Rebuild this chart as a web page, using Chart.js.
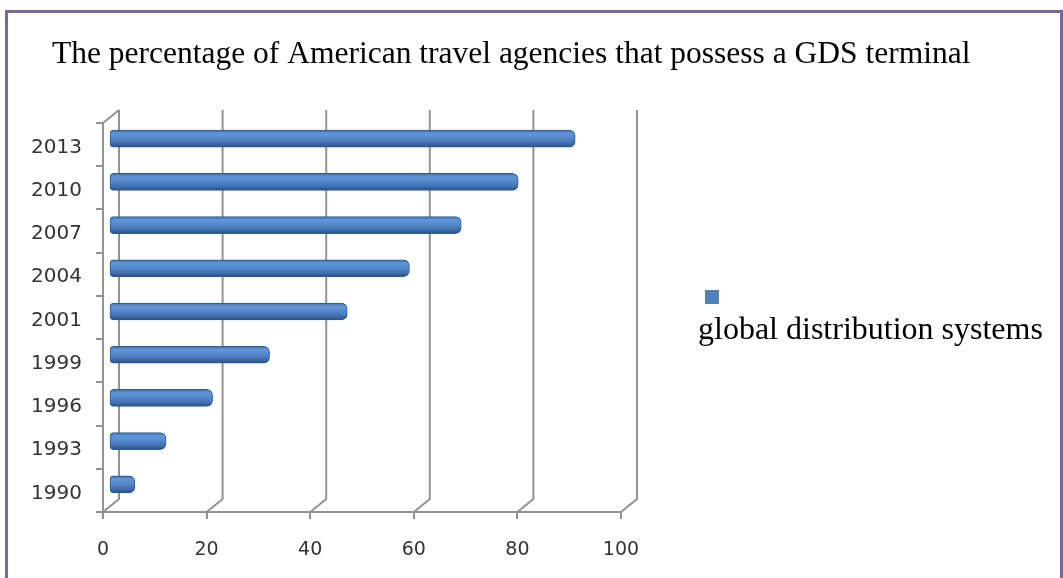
<!DOCTYPE html>
<html>
<head>
<meta charset="utf-8">
<script src="https://cdn.jsdelivr.net/npm/chart.js@4"></script>
<style>
  html, body { margin:0; padding:0; background:#fff; overflow:hidden; }
  #wrap { position:relative; width:1063px; height:578px; }
  #frame { position:absolute; left:5px; top:10px; width:1058px; height:600px; box-sizing:border-box; border:3px solid #8064a2; }
  canvas { position:absolute; left:0; top:0; }
</style>
</head>
<body>
<div id="wrap">
  <div id="frame"></div>
  <canvas id="c" width="1063" height="578"></canvas>
</div>
<script>
// top to bottom as shown
const years = ['2013','2010','2007','2004','2001','1999','1996','1993','1990'];
const gdsShare = [90, 79, 68, 58, 46, 31, 20, 11, 5];
const xTicks = [0, 20, 40, 60, 80, 100];
const seriesName = 'global distribution systems';
const chartTitle = 'The percentage of American travel agencies that possess a GDS terminal';

const gridColor = '#939393';
const DX = 16, DY = 13;   // depth of the back wall
const BX = 6, BY = 6;     // bars sit half way into the depth
const BAR_H = 17;

function barFill(context){
  const chart = context.chart;
  const yScale = chart.scales.y;
  if(!yScale) return '#4f81bd';
  const cy = yScale.getPixelForValue(context.dataIndex);
  if(!isFinite(cy)) return '#4f81bd';
  // drawn inside the translated context, so no BY offset here
  const g = chart.ctx.createLinearGradient(0, cy - BAR_H/2, 0, cy + BAR_H/2);
  g.addColorStop(0, '#3f6eaa');
  g.addColorStop(0.2, '#6096d8');
  g.addColorStop(0.45, '#578acc');
  g.addColorStop(0.75, '#4472b2');
  g.addColorStop(1, '#2a4e86');
  return g;
}

const wall3d = {
  id:'wall3d',
  beforeDatasetsDraw(chart){
    const {ctx, chartArea:a, scales:{x}} = chart;
    ctx.save();
    ctx.strokeStyle = gridColor;
    ctx.lineWidth = 2;
    xTicks.forEach(v=>{
      const px = x.getPixelForValue(v);
      ctx.beginPath();
      ctx.moveTo(px, a.bottom);
      ctx.lineTo(px+DX, a.bottom-DY);
      ctx.lineTo(px+DX, a.top-DY);
      ctx.stroke();
    });
    ctx.beginPath();
    ctx.moveTo(a.left, a.top);
    ctx.lineTo(a.left+DX, a.top-DY);
    ctx.stroke();
    ctx.restore();
    ctx.save();
    ctx.translate(BX, -BY);
  },
  afterDatasetsDraw(chart){
    chart.ctx.restore();
  },
  afterDraw(chart){
    const ctx = chart.ctx;
    ctx.save();
    ctx.fillStyle = '#000';
    ctx.textBaseline = 'alphabetic';
    ctx.textAlign = 'left';
    ctx.font = '31.5px "Liberation Serif", serif';
    ctx.fillText(chartTitle, 52, 63);
    // legend
    ctx.fillStyle = '#4f81bd';
    ctx.fillRect(705, 290, 14, 14);
    ctx.fillStyle = '#000';
    ctx.font = '32px "Liberation Serif", serif';
    ctx.fillText(chart.data.datasets[0].label, 698, 339);
    ctx.restore();
  }
};

new Chart(document.getElementById('c'), {
  type:'bar',
  data:{
    labels: years,
    datasets:[{
      label: seriesName,
      data: gdsShare,
      backgroundColor: barFill,
      borderColor:'#2f5a92',
      borderWidth:1,
      borderSkipped:false,
      borderRadius:{topLeft:4, bottomLeft:4, topRight:6, bottomRight:6},
      barThickness: BAR_H,
      clip:false
    }]
  },
  plugins:[wall3d],
  options:{
    indexAxis:'y',
    responsive:false,
    animation:false,
    layout:{ padding:{ top:123, right:442, left:0, bottom:0 } },
    plugins:{ legend:{ display:false }, title:{ display:false }, tooltip:{ enabled:false } },
    scales:{
      x:{
        min:0, max:100,
        ticks:{ stepSize:20, color:'#333', padding:20, font:{ family:'"DejaVu Sans", sans-serif', size:19 } },
        grid:{ drawOnChartArea:false, drawTicks:true, tickLength:7, color:gridColor, lineWidth:2 },
        border:{ display:true, color:gridColor, width:2 },
        afterFit(s){ s.height = 66; }
      },
      y:{
        ticks:{ color:'#333', padding:14, labelOffset:3, font:{ family:'"DejaVu Sans", sans-serif', size:20 } },
        grid:{ offset:true, drawOnChartArea:false, drawTicks:true, tickLength:7, color:gridColor, lineWidth:2 },
        border:{ display:true, color:gridColor, width:2 },
        afterFit(s){ s.width = 103; }
      }
    }
  }
});
</script>
</body>
</html>
